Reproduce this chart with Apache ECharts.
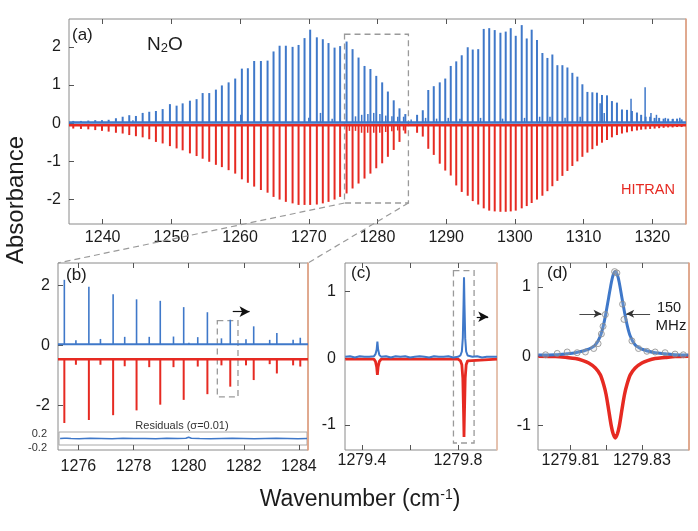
<!DOCTYPE html>
<html><head><meta charset="utf-8">
<script src="https://cdn.jsdelivr.net/npm/echarts@6/dist/echarts.min.js"></script>
<style>html,body{margin:0;padding:0;background:#fff}#c{width:698px;height:531px}</style>
</head><body><div id="c"></div>
<script>
// ---------- Panel (a): full band ----------
const aTickX = [1240,1250,1260,1270,1280,1290,1300,1310,1320];
const aTickY = [-2,-1,0,1,2];
const aPosP = [1235.72,1236.84,1237.91,1238.92,1239.9,1240.87,1241.93,1242.91,1243.87,1244.84,1245.82,1246.78,1247.75,1248.73,1249.79,1250.76,1251.64,1252.7,1253.67,1254.55,1255.51,1256.48,1257.35,1258.33,1259.29,1260.26,1261.13,1262.05,1263.03,1264.0,1264.87,1265.75,1266.66,1267.64,1268.51,1269.38,1270.2,1271.17,1272.04,1272.87,1273.75,1274.56,1275.5,1276.37,1277.24,1278.11,1278.97,1279.82,1280.68,1281.51,1282.36,1283.2,1284.05];
const aBlueP = [0.04,0.04,0.05,0.06,0.06,0.07,0.11,0.15,0.19,0.17,0.25,0.28,0.3,0.35,0.48,0.44,0.5,0.57,0.61,0.77,0.77,0.86,0.97,1.05,1.15,1.41,1.42,1.61,1.61,1.62,1.86,2.01,2.01,1.98,2.03,2.21,2.43,2.23,2.18,2.08,1.96,2.0,2.12,1.92,1.7,1.48,1.4,1.22,1.05,0.81,0.58,0.37,0.22];
const aRedP = [0.09,0.1,0.11,0.13,0.15,0.17,0.2,0.22,0.26,0.29,0.32,0.37,0.44,0.48,0.55,0.61,0.66,0.74,0.81,0.88,0.96,1.04,1.1,1.18,1.27,1.42,1.51,1.61,1.7,1.77,1.88,1.95,2.01,2.05,2.09,2.09,2.09,2.08,2.05,2.01,1.95,1.88,1.79,1.66,1.53,1.4,1.27,1.13,1.0,0.83,0.65,0.44,0.22];
const aPosR = [1285.76,1286.59,1287.39,1288.19,1289.06,1289.86,1290.66,1291.46,1292.26,1293.13,1293.86,1294.66,1295.46,1296.26,1297.06,1297.89,1298.66,1299.39,1300.12,1300.99,1301.72,1302.44,1303.21,1304.0,1304.73,1305.45,1306.18,1306.91,1307.64,1308.36,1309.09,1309.82,1310.55,1311.27,1311.94,1312.67,1313.4,1314.12,1314.85,1315.58,1316.31,1317.03,1317.76,1318.37,1319.02,1319.68,1320.33,1320.99,1321.64,1322.3,1322.95,1323.6,1324.26];
const aBlueR = [0.2,0.32,0.85,0.95,1.05,1.15,1.48,1.6,1.76,1.97,1.91,1.92,2.45,2.47,2.42,2.35,2.38,2.47,2.27,2.55,2.2,2.43,2.16,1.82,1.69,1.78,1.5,1.5,1.44,1.3,1.2,1.0,0.8,0.79,0.78,0.72,0.71,0.56,0.52,0.34,0.33,0.3,0.26,0.2,0.15,0.15,0.12,0.12,0.1,0.1,0.09,0.1,0.08];
const aRedR = [0.2,0.3,0.62,0.78,1.01,1.19,1.32,1.58,1.75,1.85,1.99,2.08,2.18,2.24,2.26,2.27,2.27,2.26,2.24,2.18,2.12,2.04,1.95,1.85,1.73,1.6,1.46,1.33,1.2,1.07,0.95,0.83,0.72,0.63,0.54,0.46,0.39,0.32,0.26,0.22,0.19,0.16,0.14,0.12,0.11,0.1,0.09,0.08,0.07,0.06,0.06,0.05,0.05];
const aWeakBluePos = [1244.4,1260.1,1270.0,1271.7,1273.4,1276.8,1277.7,1278.6,1279.45,1280.35,1281.2,1282.1,1282.95,1283.8,1284.9,1287.0,1288.6,1290.3,1292.0,1295.0,1298.2,1301.4,1303.6,1305.1,1307.3,1309.5,1312.4,1313.0,1316.9,1318.95,1319.8,1320.6,1321.9,1323.0,1324.0];
const aWeakBlue = [0.06,0.2,0.12,0.25,0.1,0.16,0.2,0.22,0.25,0.22,0.18,0.16,0.15,0.15,0.08,0.12,0.1,0.12,0.1,0.12,0.1,0.12,0.15,0.15,0.12,0.15,0.5,0.25,0.62,0.92,0.25,0.2,0.12,0.1,0.12];
const aWeakRedPos = [1275.91,1276.8,1277.68,1278.57,1279.45,1280.33,1281.19,1282.08,1282.94,1283.79];
const aWeakRed = [0.15,0.15,0.2,0.2,0.2,0.2,0.18,0.16,0.14,0.14];
const aBaseBlue = 0.02, aBaseRed = -0.05;

// ---------- Panel (b): zoom 1275-1284 ----------
const bTickX = [1276,1278,1280,1282,1284];
const bTickY = [-2,0,2];
const bPos = [1275.49,1276.38,1277.26,1278.11,1278.97,1279.82,1280.68,1281.51,1282.36,1283.2,1284.05];
const bBlue = [2.15,1.92,1.67,1.5,1.45,1.24,1.07,0.82,0.6,0.38,0.22];
const bRed = [2.12,2.02,1.86,1.7,1.51,1.35,1.16,0.91,0.69,0.47,0.24];
const bSmallPos = [1275.91,1276.8,1277.68,1278.57,1279.45,1280.01,1280.33,1281.19,1282.08,1282.94,1283.79];
const bSmallBlue = [0.14,0.18,0.25,0.25,0.26,0.05,0.24,0.2,0.17,0.15,0.15];
const bSmallRed = [0.18,0.18,0.23,0.26,0.26,0.02,0.24,0.2,0.2,0.16,0.2];
const bBaseBlue = 0.04, bRedOffset = -0.46;
const resTickY = [-0.2,0.2];
const resX = [1275.3,1275.45,1275.5,1275.55,1275.7,1276.0,1276.4,1276.8,1277.2,1277.6,1278.0,1278.4,1278.8,1279.2,1279.6,1279.9,1280.0,1280.1,1280.4,1280.8,1281.2,1281.6,1282.0,1282.4,1282.8,1283.2,1283.6,1284.0,1284.33];
const resY = [0.0,0.01,0.06,0.01,0.0,-0.01,0.01,0.0,-0.01,0.01,0.0,0.0,-0.01,0.01,0.0,0.01,0.05,0.01,0.0,-0.01,0.0,0.01,0.0,-0.01,0.0,0.01,0.0,-0.01,0.0];

// ---------- Panel (c) ----------
const cTickX = [1279.4,1279.6,1279.8];
const cLabelX = [1279.4,1279.8];
const cTickY = [-1,0,1];
const cX = [1279.33,1279.35,1279.37,1279.39,1279.41,1279.43,1279.45,1279.456,1279.461,1279.464,1279.467,1279.472,1279.48,1279.5,1279.52,1279.54,1279.56,1279.58,1279.6,1279.62,1279.64,1279.66,1279.68,1279.7,1279.72,1279.74,1279.76,1279.78,1279.8,1279.81,1279.816,1279.82,1279.823,1279.825,1279.827,1279.83,1279.834,1279.84,1279.86,1279.88,1279.9,1279.92,1279.94,1279.9625];
const cBlue = [0.02,0.03,0.01,0.03,0.02,0.02,0.03,0.06,0.13,0.25,0.13,0.05,0.02,0.03,0.01,0.03,0.02,0.03,0.01,0.02,0.03,0.02,0.01,0.03,0.02,0.02,0.03,0.01,0.02,0.04,0.1,0.3,0.8,1.21,0.8,0.3,0.1,0.04,0.02,0.03,0.01,0.02,0.02,0.02];
const cRedX = [1279.33,1279.45,1279.456,1279.461,1279.464,1279.467,1279.472,1279.48,1279.8,1279.81,1279.816,1279.82,1279.823,1279.825,1279.827,1279.83,1279.834,1279.84,1279.9625];
const cRed = [-0.015,-0.015,-0.05,-0.13,-0.25,-0.13,-0.05,-0.015,-0.015,-0.04,-0.1,-0.3,-0.8,-1.18,-0.8,-0.3,-0.1,-0.04,-0.015];

// ---------- Panel (d) ----------
const dTickX = [1279.81,1279.82,1279.83];
const dLabelX = [1279.81,1279.83];
const dTickY = [-1,0,1];
const dX = [1279.801,1279.80582,1279.809,1279.81139,1279.8135,1279.8151,1279.81697,1279.81837,1279.81929,1279.81996,1279.82068,1279.82144,1279.82195,1279.82255,1279.82315,1279.82367,1279.82442,1279.82515,1279.82582,1279.82674,1279.82813,1279.83,1279.8316,1279.83371,1279.8365,1279.83929,1279.843];
const dBlue = [0.015,0.02,0.035,0.05,0.075,0.1,0.16,0.29,0.46,0.63,0.84,1.06,1.17,1.22,1.17,1.06,0.84,0.63,0.46,0.29,0.16,0.1,0.075,0.05,0.035,0.02,0.015];
const dRed = [0,-0.005,-0.02,-0.035,-0.065,-0.1,-0.17,-0.27,-0.41,-0.55,-0.77,-1.01,-1.12,-1.18,-1.12,-1.01,-0.77,-0.55,-0.41,-0.27,-0.17,-0.1,-0.065,-0.035,-0.02,-0.005,0];
const dPtX = [1279.80303,1279.80629,1279.80908,1279.81187,1279.81418,1279.8165,1279.81773,1279.81865,1279.81912,1279.81976,1279.82236,1279.823,1279.82459,1279.82498,1279.82721,1279.82905,1279.8314,1279.83371,1279.8365,1279.83929,1279.84161];
const dPtY = [0.02,0.04,0.06,0.05,0.06,0.11,0.18,0.32,0.43,0.6,1.22,1.2,0.75,0.53,0.22,0.11,0.07,0.06,0.05,0.03,0.02];

// ---------- annotation boxes / arrows (data units) ----------
const boxA = [1275.2, 1284.5, -2.09, 2.33];
const boxB = [1281.04, 1281.79, -1.71, 0.83];
const boxC = [1279.781, 1279.867, -1.27, 1.31];
const arrowB = [1281.6, 1282.21, 1.13];
const arrowC = [1279.878, 1279.926, 0.62];
const arrowD = [[1279.8125, 1279.8187, 0.61], [1279.8323, 1279.8256, 0.61]];

// ---------- ranges ----------
const rngA = {x:[1235.1,1324.9], y:[-2.64,2.73]};
const rngB = {x:[1275.26,1284.33], y:[-3.48,2.75]};
const rngR = {y:[-0.25,0.25]};
const rngC = {x:[1279.329,1279.9625], y:[-1.375,1.425]};
const rngD = {x:[1279.8009,1279.8432], y:[-1.354,1.344]};

const FONT = '"Liberation Sans", Arial, Helvetica, sans-serif';
const BLUE = '#3f78c9', RED = '#e62a22', GRAY = '#8a8a8a', ORANGE = '#eaa07e', TXT = '#1c1c1c', TICK = '#555';

const chart = echarts.init(document.getElementById('c'), null, {renderer:'canvas', width:698, height:531});

function xPair(gi, r, ticks, labels, fmt, margin) {
  return [
    {type:'value', gridIndex:gi, min:r[0], max:r[1], position:'bottom', axisLine:{show:false, onZero:false}, splitLine:{show:false},
     axisTick:{show:true, inside:true, length:5, lineStyle:{color:TICK}, customValues:ticks},
     axisLabel:{show:true, customValues:labels, formatter:fmt, color:TXT, fontSize:16, fontFamily:FONT, margin:margin}},
    {type:'value', gridIndex:gi, min:r[0], max:r[1], position:'top', axisLine:{show:false, onZero:false}, splitLine:{show:false},
     axisTick:{show:true, inside:true, length:5, lineStyle:{color:TICK}, customValues:ticks},
     axisLabel:{show:false}}
  ];
}
function yPair(gi, r, ticks, fmt, margin, edge) {
  return [
    {type:'value', gridIndex:gi, min:r[0], max:r[1], position:'left', axisLine:{show:false, onZero:false}, splitLine:{show:false},
     axisTick:{show:true, inside:true, length:5, lineStyle:{color:TICK}, customValues:ticks},
     axisLabel:{show:true, customValues:ticks, formatter:fmt, color:TXT, fontSize:16, fontFamily:FONT, margin:margin}},
    {type:'value', gridIndex:gi, min:r[0], max:r[1], position:'right', axisLine:{show:true, onZero:false, lineStyle:{color:edge, width:1.5}},
     splitLine:{show:false}, axisTick:{show:false}, axisLabel:{show:false}}
  ];
}
function spikes(xi, yi, pos, base, vals, sign, color, width, z) {
  return {
    type:'custom', xAxisIndex:xi, yAxisIndex:yi, z:z, silent:true,
    encode:{x:0, y:[1,2]},
    data: pos.map((p,i)=>[p, base, base + sign*vals[i]]),
    renderItem: function(params, api) {
      const p0 = api.coord([api.value(0), api.value(1)]);
      const p1 = api.coord([api.value(0), api.value(2)]);
      return {type:'line', shape:{x1:p0[0], y1:p0[1], x2:p1[0], y2:p1[1]}, style:{stroke:color, lineWidth:width}};
    }
  };
}
function baseline(xi, yi, r, y, color, width, z, extra) {
  return Object.assign({type:'line', xAxisIndex:xi, yAxisIndex:yi, z:z, silent:true, showSymbol:false,
    data:[[r[0], y],[r[1], y]], lineStyle:{color:color, width:width}}, extra || {});
}
function dashedBox(b) {
  return {silent:true, itemStyle:{color:'rgba(0,0,0,0)', borderColor:'#9a9a9a', borderWidth:1.3, borderType:[6,4]},
    label:{show:false}, data:[[{coord:[b[0], b[3]]},{coord:[b[1], b[2]]}]]};
}
function arrows(list, color, width, size) {
  return {silent:true, symbol:['none','arrow'], symbolSize:size, label:{show:false},
    lineStyle:{color:color, width:width, type:'solid'}, emphasis:{disabled:true},
    data: list.map(a=>[{coord:[a[0], a[2]]},{coord:[a[1], a[2]]}])};
}
const gridBase = {show:true, borderColor:GRAY, borderWidth:1, backgroundColor:'#fff', outerBoundsMode:'none', containLabel:false};
const fmtInt = v => String(v);

const option = {
  animation:false,
  backgroundColor:'#fff',
  grid:[
    Object.assign({left:69, top:19, width:617, height:205}, gridBase),
    Object.assign({left:58, top:263, width:250, height:187}, gridBase),
    Object.assign({}, gridBase, {left:59, top:432, width:248, height:13, borderColor:'#a8a8a8', backgroundColor:'rgba(0,0,0,0)'}),
    Object.assign({left:345, top:263, width:152, height:187}, gridBase),
    Object.assign({left:538, top:263, width:151, height:187}, gridBase)
  ],
  xAxis:[
    ...xPair(0, rngA.x, aTickX, aTickX, fmtInt, 6),
    ...xPair(1, rngB.x, bTickX, bTickX, fmtInt, 9),
    {type:'value', gridIndex:2, min:rngB.x[0], max:rngB.x[1], show:false, axisLine:{onZero:false}},
    ...xPair(3, rngC.x, cTickX, cLabelX, v=>v.toFixed(1), 3),
    ...xPair(4, rngD.x, dTickX, dLabelX, v=>v.toFixed(2), 3)
  ],
  yAxis:[
    ...yPair(0, rngA.y, aTickY, fmtInt, 8, ORANGE),
    ...yPair(1, rngB.y, bTickY, fmtInt, 8, ORANGE),
    {type:'value', gridIndex:2, min:rngR.y[0], max:rngR.y[1], position:'left', axisLine:{show:false, onZero:false}, splitLine:{show:false}, axisTick:{show:false},
     axisLabel:{show:true, customValues:resTickY, color:'#333', fontSize:11, fontFamily:FONT, margin:12,
       formatter: v => v < 0 ? '{lo|' + v.toFixed(1) + '}' : '{hi|' + v.toFixed(1) + '}',
       rich:{lo:{fontSize:11, fontFamily:FONT, color:'#333', padding:[9,0,0,0]}, hi:{fontSize:11, fontFamily:FONT, color:'#333', padding:[2,0,0,0]}}}},
    ...yPair(3, rngC.y, cTickY, fmtInt, 9, '#f1c2a8'),
    ...yPair(4, rngD.y, dTickY, fmtInt, 7, ORANGE)
  ],
  series:[
    // panel (a)
    baseline(0, 0, rngA.x, aBaseRed, RED, 2.5, 2),
    spikes(0, 0, aPosP, aBaseRed, aRedP, -1, RED, 2, 3),
    spikes(0, 0, aPosR, aBaseRed, aRedR, -1, RED, 2, 3),
    spikes(0, 0, aWeakRedPos, aBaseRed, aWeakRed, -1, RED, 1.5, 3),
    baseline(0, 0, rngA.x, aBaseBlue, BLUE, 2.5, 4, {markArea: dashedBox(boxA)}),
    spikes(0, 0, aPosP, aBaseBlue, aBlueP, 1, BLUE, 2, 5),
    spikes(0, 0, aPosR, aBaseBlue, aBlueR, 1, BLUE, 2, 5),
    spikes(0, 0, aWeakBluePos, aBaseBlue, aWeakBlue, 1, BLUE, 1.5, 5),
    // panel (b)
    baseline(2, 2, rngB.x, bRedOffset, RED, 2.5, 2),
    spikes(2, 2, bPos, bRedOffset, bRed, -1, RED, 2, 3),
    spikes(2, 2, bSmallPos, bRedOffset, bSmallRed, -1, RED, 2, 3),
    baseline(2, 2, rngB.x, bBaseBlue, BLUE, 2, 4, {markArea: dashedBox(boxB), markLine: arrows([arrowB], '#111', 1.2, [8,10])}),
    spikes(2, 2, bPos, bBaseBlue, bBlue, 1, BLUE, 1.6, 5),
    spikes(2, 2, bSmallPos, bBaseBlue, bSmallBlue, 1, BLUE, 1.6, 5),
    // residuals
    {type:'line', xAxisIndex:4, yAxisIndex:4, silent:true, showSymbol:false, z:4,
     data: resX.map((x,i)=>[x, resY[i]]), lineStyle:{color:BLUE, width:1.6}},
    // panel (c)
    {type:'line', xAxisIndex:5, yAxisIndex:5, silent:true, showSymbol:false, z:3,
     data: cRedX.map((x,i)=>[x, cRed[i]]), lineStyle:{color:RED, width:2.8}},
    {type:'line', xAxisIndex:5, yAxisIndex:5, silent:true, showSymbol:false, z:4,
     data: cX.map((x,i)=>[x, cBlue[i]]), lineStyle:{color:BLUE, width:2},
     markArea: dashedBox(boxC), markLine: arrows([arrowC], '#111', 1.2, [8,10])},
    // panel (d)
    {type:'line', xAxisIndex:7, yAxisIndex:7, silent:true, showSymbol:false, z:3, smooth:0.3,
     data: dX.map((x,i)=>[x, dRed[i]]), lineStyle:{color:RED, width:3.5}},
    {type:'line', xAxisIndex:7, yAxisIndex:7, silent:true, showSymbol:false, z:4, smooth:0.3,
     data: dX.map((x,i)=>[x, dBlue[i]]), lineStyle:{color:BLUE, width:3},
     markLine: arrows(arrowD, '#333', 0.9, [6,8])},
    {type:'scatter', xAxisIndex:7, yAxisIndex:7, silent:true, z:5, symbol:'circle', symbolSize:6,
     data: dPtX.map((x,i)=>[x, dPtY[i]]),
     itemStyle:{color:'rgba(200,200,200,0.25)', borderColor:'#8c8c8c', borderWidth:1}}
  ]
};
chart.setOption(option);

function T(text, x, y, size, o) {
  o = o || {};
  return {type:'text', x:x, y:y, rotation:o.rot || 0, z:100, silent:true,
    style:{text:text, fontSize:size, fontFamily:FONT, fill:o.color || TXT,
      align:o.align || 'left', textAlign:o.align || 'left', verticalAlign:'middle', textVerticalAlign:'middle',
      rich:o.rich}};
}
const pA1 = chart.convertToPixel({xAxisIndex:0, yAxisIndex:0}, [boxA[0], boxA[2]]);
const pA2 = chart.convertToPixel({xAxisIndex:0, yAxisIndex:0}, [boxA[1], boxA[2]]);
const pB1 = chart.convertToPixel({xAxisIndex:2, yAxisIndex:2}, [rngB.x[0], rngB.y[1]]);
const pB2 = chart.convertToPixel({xAxisIndex:2, yAxisIndex:2}, [rngB.x[1], rngB.y[1]]);
const dash = {stroke:'#9a9a9a', lineWidth:1.2, lineDash:[6,4]};
chart.setOption({graphic:[
  {type:'line', silent:true, z:50, shape:{x1:pA1[0], y1:pA1[1], x2:pB1[0], y2:pB1[1]}, style:dash},
  {type:'line', silent:true, z:50, shape:{x1:pA2[0], y1:pA2[1], x2:pB2[0], y2:pB2[1]}, style:dash},
  T('(a)', 72, 35, 17),
  T('N{s|2}O', 147, 45, 19, {rich:{s:{fontSize:13, fontFamily:FONT, fill:TXT, verticalAlign:'bottom', lineHeight:14}}}),
  T('HITRAN', 621, 190, 14.5, {color:RED}),
  T('(b)', 66, 275, 17),
  T('(c)', 351, 273, 17),
  T('(d)', 547, 273, 17),
  T('Residuals (σ=0.01)', 182, 425.5, 11, {align:'center', color:'#333'}),
  T('150', 669, 308, 14.5, {align:'center'}),
  T('MHz', 671, 326, 15, {align:'center'}),
  T('Absorbance', 16, 200, 24, {align:'center', rot:Math.PI/2}),
  T('Wavenumber (cm{sup|-1})', 360, 500, 23, {align:'center', rich:{sup:{fontSize:14, fontFamily:FONT, fill:TXT, verticalAlign:'top', lineHeight:14}}})
]});
</script></body></html>
